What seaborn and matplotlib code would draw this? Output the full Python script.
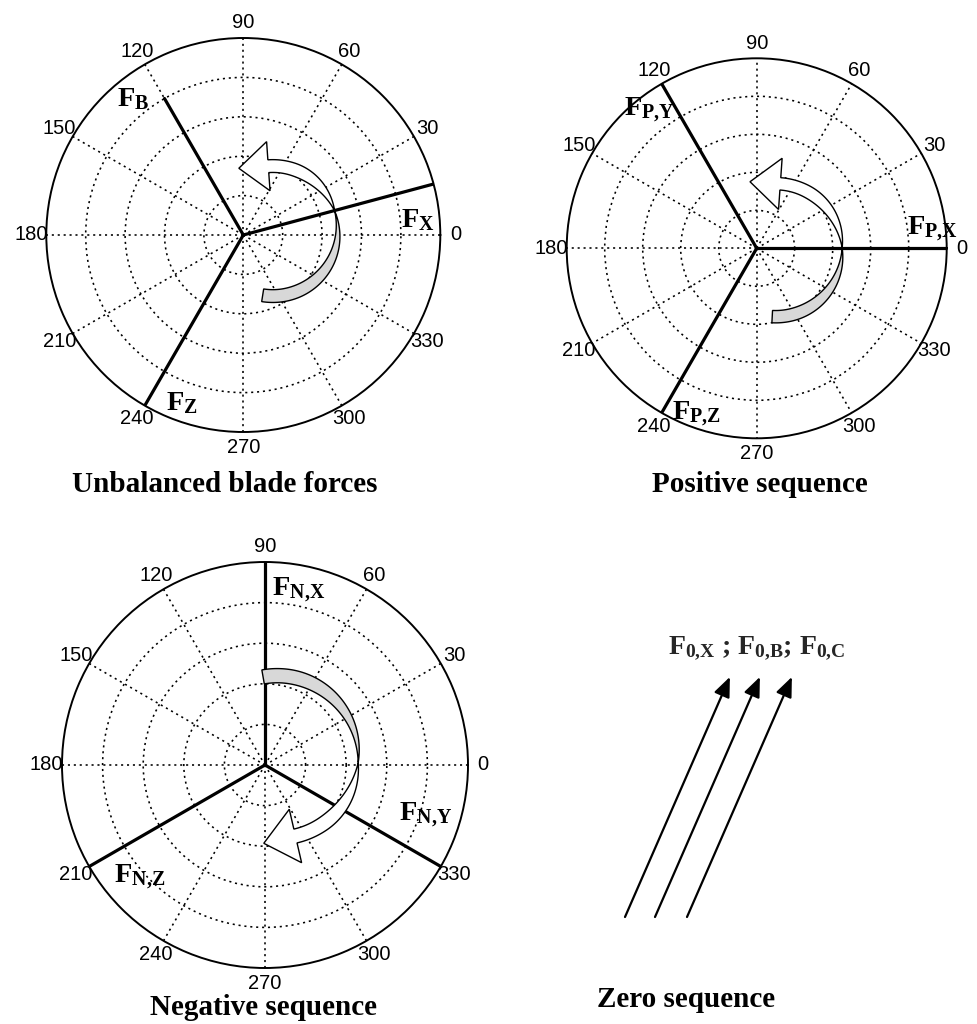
import numpy as np
import pandas as pd
import matplotlib
matplotlib.use("Agg")
import matplotlib.pyplot as plt
from matplotlib.patches import Polygon
import seaborn as sns

# ---- data -------------------------------------------------------------
theta_ticks = list(range(0, 360, 30))
theta_labels = [str(t) for t in theta_ticks]
ring_radii = [0.2, 0.4, 0.6, 0.8]

unbal_names = ["X", "B", "Z"]
unbal_angle = [15, 120, 240]
unbal_mag = [1.0, 0.8, 1.0]

pos_names = ["P,X", "P,Y", "P,Z"]
pos_angle = [0, 120, 240]
pos_mag = [1.0, 1.0, 1.0]

neg_names = ["N,X", "N,Y", "N,Z"]
neg_angle = [90, 330, 210]
neg_mag = [1.0, 1.0, 1.0]

zero_names = ["0,X", "0,B", "0,C"]
zero_angle = 66.4
zero_mag = 1.31

titles = ["Unbalanced blade forces", "Positive sequence",
          "Negative sequence", "Zero sequence"]

# ---- style ------------------------------------------------------------
sns.set_theme(style="white")
plt.rcParams["font.family"] = ["Liberation Sans", "DejaVu Sans"]
plt.rcParams["mathtext.fontset"] = "custom"
plt.rcParams["mathtext.rm"] = "Liberation Serif:bold"
plt.rcParams["mathtext.it"] = "Liberation Serif:bold"
plt.rcParams["mathtext.bf"] = "Liberation Serif:bold"

W, H = 977, 1024
fig = plt.figure(figsize=(W / 100, H / 100), dpi=100)
fig.patch.set_facecolor("white")


def rect_from_center(cx, cy, r):
    return [(cx - r) / W, (H - cy - r) / H, 2 * r / W, 2 * r / H]


def sub(name):
    # subscript without the extra space mathtext puts after a comma
    return "F$_{\\mathrm{%s}}$" % name.replace(",", "{,}")


def polar_panel(rect):
    ax = fig.add_axes(rect, projection="polar")
    ax.set_facecolor("white")
    ax.set_rlim(0, 1)
    ax.set_thetagrids(theta_ticks, labels=theta_labels)
    ax.set_rgrids(ring_radii, labels=[])
    ax.grid(True, color="black", linestyle=(0, (1.3, 2.4)), linewidth=1.15)
    ax.spines["polar"].set_color("black")
    ax.spines["polar"].set_linewidth(1.4)
    ax.tick_params(axis="x", length=0, pad=4, labelsize=14.5, labelcolor="black")
    ax.tick_params(axis="y", length=0)
    return ax


def draw_vectors(ax, names, angles, mags):
    for n, a, m in zip(names, angles, mags):
        df = pd.DataFrame({"theta": [np.deg2rad(a)] * 2, "r": [0.0, m]})
        sns.lineplot(data=df, x="theta", y="r", ax=ax, color="black",
                     linewidth=2.3, estimator=None, sort=False, legend=False)
    ax.set_xlabel("")
    ax.set_ylabel("")
    ax.set_rlim(0, 1)


def vec_label(ax, name, ang, r):
    ax.text(np.deg2rad(ang), r, sub(name), ha="center",
            va="center", fontsize=20.5, fontfamily="Liberation Serif",
            fontweight="bold", color="black", zorder=6)


def overlay(rect):
    o = fig.add_axes(rect, zorder=5)
    o.set_xlim(-1, 1)
    o.set_ylim(-1, 1)
    o.axis("off")
    o.patch.set_alpha(0)
    return o


def ribbon_arrow(ax, c, rho, a_tail, a_twist, a_head, width, head_len, head_half):
    """Curved twisted ribbon arrow: grey underside, white topside with head."""
    cx, cy = c
    s = np.sign(a_head - a_tail)

    def pt(a, off):
        t = np.deg2rad(a)
        return (cx + (rho + off) * np.cos(t), cy + (rho + off) * np.sin(t))

    a1 = np.linspace(a_tail, a_twist, 90)
    frac1 = np.clip((a1 - a_twist) / (a_tail - a_twist) * 1.2, 0, 1)
    h1 = width / 2 * np.sin(np.pi / 2 * frac1)
    outer = [pt(a, h) for a, h in zip(a1, h1)]
    inner = [pt(a, -h) for a, h in zip(a1, h1)][::-1]
    ax.add_patch(Polygon(outer + inner, closed=True, facecolor="#d8d8d8",
                         edgecolor="black", linewidth=1.0, zorder=3))

    a2 = np.linspace(a_twist, a_head, 90)
    frac2 = np.clip((a2 - a_twist) / (a_head - a_twist) * 1.4, 0, 1)
    h2 = width / 2 * np.sin(np.pi / 2 * frac2)
    outer = [pt(a, h) for a, h in zip(a2, h2)]
    inner = [pt(a, -h) for a, h in zip(a2, h2)][::-1]
    tb = np.deg2rad(a_head)
    base = np.array(pt(a_head, 0))
    radial = np.array([np.cos(tb), np.sin(tb)])
    tangent = s * np.array([-np.sin(tb), np.cos(tb)])
    tip = base + head_len * tangent
    head = [tuple(base + head_half * radial), tuple(tip),
            tuple(base - head_half * radial)]
    ax.add_patch(Polygon(outer + head + inner, closed=True, facecolor="white",
                         edgecolor="black", linewidth=1.0, zorder=4))


# ---- panel 1: unbalanced blade forces ----------------------------------
r1 = rect_from_center(243.3, 235, 197)
ax1 = polar_panel(r1)
draw_vectors(ax1, unbal_names, unbal_angle, unbal_mag)
vec_label(ax1, "X", 5, 0.89)
vec_label(ax1, "B", 129, 0.885)
vec_label(ax1, "Z", 250, 0.91)
o1 = overlay(r1)
ribbon_arrow(o1, (0.15, 0.02), 0.33, -99, 18, 94, 0.065, 0.15, 0.125)

# ---- panel 2: positive sequence -----------------------------------------
r2 = rect_from_center(756.7, 248.3, 190)
ax2 = polar_panel(r2)
draw_vectors(ax2, pos_names, pos_angle, pos_mag)
vec_label(ax2, "P,X", 6, 0.93)
vec_label(ax2, "P,Y", 128, 0.92)
vec_label(ax2, "P,Z", 250, 0.93)
o2 = overlay(r2)
ribbon_arrow(o2, (0.10, -0.01), 0.35, -93, 2, 86, 0.065, 0.16, 0.135)

# ---- panel 3: negative sequence -----------------------------------------
r3 = rect_from_center(265, 765, 203)
ax3 = polar_panel(r3)
draw_vectors(ax3, neg_names, neg_angle, neg_mag)
vec_label(ax3, "N,X", 79, 0.876)
vec_label(ax3, "N,Y", -17.4, 0.83)
vec_label(ax3, "N,Z", 222, 0.83)
o3 = overlay(r3)
ribbon_arrow(o3, (0.06, 0.04), 0.40, 100, -4, -77, 0.07, 0.16, 0.135)

# ---- panel 4: zero sequence (parallel, equal vectors) --------------------
z_left, z_top, z_right, z_bottom = 560, 600, 900, 960
az = fig.add_axes([z_left / W, (H - z_bottom) / H,
                   (z_right - z_left) / W, (z_bottom - z_top) / H])
az.set_xlim(0, (z_right - z_left) / 200)
az.set_ylim(0, (z_bottom - z_top) / 200)
az.axis("off")
zero_tails_x = [0.325, 0.475, 0.635]
zero_tail_y = 0.215
dx = zero_mag * np.cos(np.deg2rad(zero_angle))
dy = zero_mag * np.sin(np.deg2rad(zero_angle))
for x0 in zero_tails_x:
    az.annotate("", xy=(x0 + dx, zero_tail_y + dy), xytext=(x0, zero_tail_y),
                arrowprops=dict(arrowstyle="-|>,head_length=0.6,head_width=0.25",
                                mutation_scale=20, color="black", lw=1.6,
                                shrinkA=0, shrinkB=0))

zero_text = "%s ; %s; %s" % tuple(sub(n) for n in zero_names)
fig.text(756.5 / W, 1 - 653 / H, zero_text, ha="center", va="baseline",
         fontsize=20, fontfamily="Liberation Serif", fontweight="bold")

# ---- panel titles ----------------------------------------------------------
title_pos = [(224.5, 492), (759.5, 492), (263.5, 1015), (686, 1007)]
for t, (x, y) in zip(titles, title_pos):
    fig.text(x / W, 1 - y / H, t, ha="center", va="baseline", fontsize=21,
             fontfamily="Liberation Serif", fontweight="bold", color="black")

fig.savefig("out.png", dpi=100, facecolor="white")
